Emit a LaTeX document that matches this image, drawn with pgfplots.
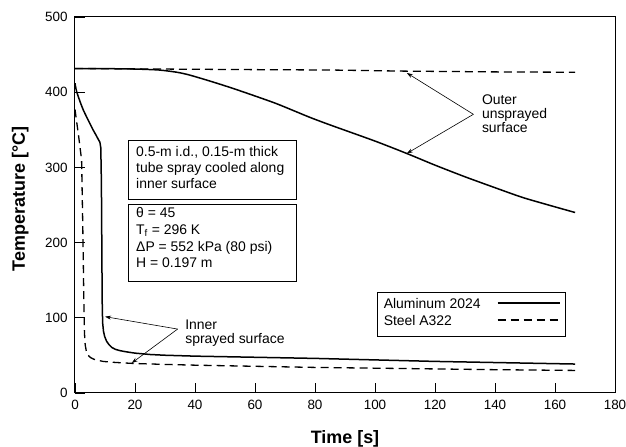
\documentclass[border=0pt]{standalone}
\usepackage{pgfplots}
\pgfplotsset{compat=1.18}
\usepackage{fontspec}
\setmainfont{Liberation Sans}
\usetikzlibrary{arrows.meta}
\begin{document}
\begin{tikzpicture}
\begin{axis}[
  scale only axis, width=540bp, height=376bp,
  xmin=0, xmax=180, ymin=0, ymax=500,
  xtick={0,20,...,180}, ytick={0,100,...,500},
  tick align=inside, xtick pos=bottom, ytick pos=left,
  major tick length=10bp,
  axis line style={line width=1bp},
  tick style={line width=0.8bp, black},
  /pgf/number format/assume math mode=true,
  ticklabel style={font=\fontsize{13.5}{16}\selectfont},
  xticklabel style={yshift=-4bp},
  yticklabel style={xshift=-3.8bp},
  xlabel={Time [s]}, ylabel={Temperature [°C]},
  label style={font=\fontsize{18}{20}\selectfont\bfseries},
  xlabel style={at={(axis description cs:0.5,-0.1338)}, anchor=base},
  ylabel style={at={(axis description cs:-0.0926,0.516)}, anchor=base},
  legend cell align=left,
  legend plot pos=right,
  legend image code/.code={\draw[#1] (0bp,3bp) -- (62bp,3bp);},
  legend style={at={(axis cs:100.6,134.7)}, anchor=north west, draw=black,
    line width=0.8bp, font=\fontsize{14}{16}\selectfont,
    inner xsep=5.3bp, inner ysep=5.3bp, row sep=0bp, column sep=15bp,
    nodes={inner sep=1.25bp, text height=10bp, text depth=4.5bp}},
]
\addplot[line width=1.5bp, smooth, tension=0.4] coordinates {
 (0,431.5) (10,431.3) (20,430.8) (28,429.5) (34,426.5) (38,423) (44,416)
 (50,408.5) (56,400.5) (67,385) (78,367) (85,356.5) (100,335) (110.6,318.5)
 (120,303) (130,287.5) (140,273) (150,259) (166.7,240)};
\addlegendentry{Aluminum 2024}
\addplot[line width=1.3bp, dash pattern=on 8bp off 5bp] coordinates {
 (0,431.5) (20,431) (40,430.5) (60,430) (85,429.5) (110,428) (140,427) (166.7,426.5)};
\addlegendentry{Steel A322}
\addplot[forget plot, line width=1.5bp, line join=round] coordinates {
 (0,412) (0.3,405) (0.6,400) (1.1,394) (2,384) (2.8,376) (4,366) (5,358)
 (6,350) (7,343) (7.8,337) (8.3,333.5) (8.6,326) (8.8,280) (8.9,221)
 (9.0,160) (9.1,110) (9.25,92) (9.5,82) (9.9,75) (10.5,69) (11.3,64.5)
 (12.3,60.5) (13.5,58) (15,56.3) (17,54.8) (20,53) (25,51.2) (30,50.2)
 (40,49) (60,47.5) (80,46) (100,44) (120,42) (140,40.5) (166.7,38.5)};
\addplot[forget plot, line width=1.3bp, dash pattern=on 8bp off 5bp, line join=round] coordinates {
 (0,377) (0.5,362) (1.1,345) (1.7,326) (2.2,310) (2.4,265) (2.6,221)
 (2.8,165) (3.0,110) (3.15,80) (3.4,64) (3.8,55) (4.4,50) (5.2,47)
 (6.2,45) (7.5,43.5) (9.4,42) (12,41) (16,40) (20,39.2) (30,38) (40,37)
 (60,35.5) (80,34) (100,33) (120,32) (140,31) (166.7,30)};

% text boxes
\draw[line width=0.8bp] (axis cs:17.77,336.4) rectangle (axis cs:73.9,258);
\draw[line width=0.8bp] (axis cs:17.77,250.9) rectangle (axis cs:73.9,148);
\begin{scope}[every node/.style={anchor=base west, inner sep=0pt, font=\fontsize{14}{16}\selectfont}]
\node at (axis cs:20.33,314.2) {0.5-m i.d., 0.15-m thick};
\node at (axis cs:20.33,293.0) {tube spray cooled along};
\node at (axis cs:20.33,271.3) {inner surface};
\node at (axis cs:20.33,233.1) {θ = 45};
\node at (axis cs:20.33,211.0) {T\textsubscript{f} = 296 K};
\node at (axis cs:20.33,188.8) {ΔP = 552 kPa (80 psi)};
\node at (axis cs:20.33,166.6) {H = 0.197 m};
\node at (axis cs:135.6,383.0) {Outer};
\node at (axis cs:135.6,365.3) {unsprayed};
\node at (axis cs:135.6,346.1) {surface};
\node at (axis cs:36.7,84.6) {Inner};
\node at (axis cs:36.7,66.0) {sprayed surface};
\end{scope}
% annotation arrows
\draw[line width=0.6bp, -{Stealth[length=6bp,width=4bp]}] (axis cs:132.8,370.6) -- (axis cs:110.6,425.6);
\draw[line width=0.6bp, -{Stealth[length=6bp,width=4bp]}] (axis cs:132.8,370.6) -- (axis cs:110.6,318.5);
\draw[line width=0.6bp, -{Stealth[length=6bp,width=4bp]}] (axis cs:34.2,85) -- (axis cs:10,101.5);
\draw[line width=0.6bp, -{Stealth[length=6bp,width=4bp]}] (axis cs:34.2,85) -- (axis cs:18.9,39.8);
\coordinate (ll) at (rel axis cs:0,0);
\coordinate (ur) at (rel axis cs:1,1);
\end{axis}
\pgfresetboundingbox
\path ([shift={(-75bp,-54bp)}]ll) rectangle ([shift={(11bp,17bp)}]ur);
\end{tikzpicture}
\end{document}
